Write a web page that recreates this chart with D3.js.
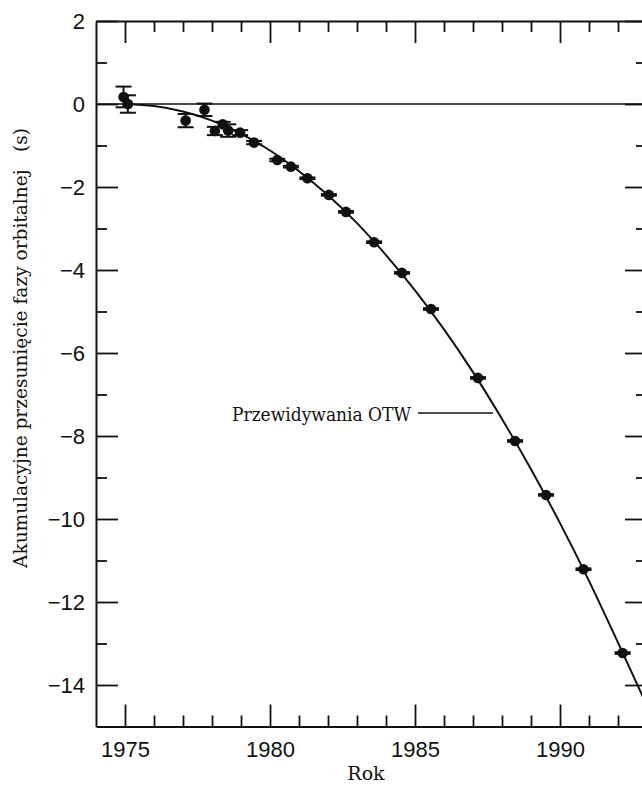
<!DOCTYPE html>
<html><head><meta charset="utf-8">
<script src="https://cdn.jsdelivr.net/npm/d3@7"></script>
<style>body{margin:0;background:#fff}svg{display:block}</style>
</head><body><svg id="c" width="642" height="787"></svg>
<script>
// Measured points (year, cumulative orbital phase shift in s, error in s)
const years  = [1974.95, 1975.10, 1977.09, 1977.74, 1978.10, 1978.37, 1978.56, 1978.97, 1979.45, 1980.25, 1980.72, 1981.29, 1982.03, 1982.62, 1983.59, 1984.55, 1985.55, 1987.17, 1988.45, 1989.52, 1990.81, 1992.16];
const shifts = [0.17, 0.00, -0.40, -0.14, -0.65, -0.49, -0.64, -0.69, -0.93, -1.35, -1.51, -1.79, -2.19, -2.60, -3.33, -4.07, -4.94, -6.60, -8.12, -9.42, -11.21, -13.23];
const errors = [0.25, 0.21, 0.16, 0.15, 0.10, 0.06, 0.15, 0.06, 0.04, 0.03, 0.02, 0.02, 0.02, 0.02, 0.02, 0.02, 0.02, 0.02, 0.02, 0.02, 0.02, 0.02];
// GR (OTW) prediction curve
const curveYears  = [1975.0, 1976, 1977, 1978, 1979, 1980, 1981, 1982, 1983, 1984, 1985, 1986, 1987, 1988, 1989, 1990, 1991, 1992, 1992.9];
const curveShifts = [0.0, -0.05, -0.18, -0.40, -0.72, -1.12, -1.62, -2.20, -2.87, -3.64, -4.49, -5.43, -6.46, -7.59, -8.80, -10.10, -11.49, -12.98, -14.35];
// Tick values
const xMajorTicks = [1975, 1980, 1985, 1990];
const xMinorTicks = [1976, 1977, 1978, 1979, 1981, 1982, 1983, 1984, 1986, 1987, 1988, 1989, 1991, 1992];
const yMajorTicks = [2, 0, -2, -4, -6, -8, -10, -12, -14];
const yMinorTicks = [1, -1, -3, -5, -7, -9, -11, -13];
const xTitle = "Rok";
const yTitle = "Akumulacyjne przesunięcie fazy orbitalnej";
const yUnit = "(s)";
const annotation = "Przewidywania OTW";

const svg = d3.select("#c");
const L = 96, R = 647, T = 21, B = 726.5;
const x = d3.scaleLinear().domain([1974, 1993]).range([L, R]);
const y = d3.scaleLinear().domain([-15, 2]).range([B, T]);

const fmt = d => d < 0 ? "\u2212" + Math.abs(d) : String(d);
const sans = "'Liberation Sans', Arial, sans-serif";
const serif = "'DejaVu Serif', serif";

function styleAxis(g) {
  g.attr("font-family", sans).attr("font-size", 22);
  g.selectAll("path.domain").attr("stroke", "#111").attr("stroke-width", 2);
  g.selectAll(".tick line").attr("stroke", "#111").attr("stroke-width", 1.8);
  g.selectAll(".tick text").attr("fill", "#111");
}

// Left axis
svg.append("g").attr("transform", `translate(${L},0)`)
  .call(d3.axisLeft(y).tickValues(yMajorTicks).tickSize(-22).tickSizeOuter(0).tickPadding(11).tickFormat(fmt)).call(styleAxis);
svg.append("g").attr("transform", `translate(${L},0)`)
  .call(d3.axisLeft(y).tickValues(yMinorTicks).tickSize(-11).tickFormat("")).call(styleAxis)
  .select("path.domain").remove();
// Right axis
svg.append("g").attr("transform", `translate(${R},0)`)
  .call(d3.axisRight(y).tickValues(yMajorTicks).tickSize(-22).tickSizeOuter(0).tickFormat("")).call(styleAxis);
svg.append("g").attr("transform", `translate(${R},0)`)
  .call(d3.axisRight(y).tickValues(yMinorTicks).tickSize(-11).tickFormat("")).call(styleAxis)
  .select("path.domain").remove();
// Bottom axis
svg.append("g").attr("transform", `translate(0,${B})`)
  .call(d3.axisBottom(x).tickValues(xMajorTicks).tickSize(-22).tickSizeOuter(0).tickPadding(14.5).tickFormat(d3.format("d"))).call(styleAxis);
svg.append("g").attr("transform", `translate(0,${B})`)
  .call(d3.axisBottom(x).tickValues(xMinorTicks).tickSize(-11).tickFormat("")).call(styleAxis)
  .select("path.domain").remove();
// Top axis
svg.append("g").attr("transform", `translate(0,${T})`)
  .call(d3.axisTop(x).tickValues(xMajorTicks).tickSize(-22).tickSizeOuter(0).tickFormat("")).call(styleAxis);
svg.append("g").attr("transform", `translate(0,${T})`)
  .call(d3.axisTop(x).tickValues(xMinorTicks).tickSize(-11).tickFormat("")).call(styleAxis)
  .select("path.domain").remove();

// Zero line
svg.append("line").attr("x1", L).attr("x2", R).attr("y1", y(0)).attr("y2", y(0))
  .attr("stroke", "#111").attr("stroke-width", 1.6);

// Prediction curve
const curveData = curveYears.map((t, i) => [t, curveShifts[i]]);
svg.append("path").datum(curveData)
  .attr("fill", "none").attr("stroke", "#111").attr("stroke-width", 2)
  .attr("d", d3.line().x(d => x(d[0])).y(d => y(d[1])).curve(d3.curveMonotoneX));

// Data points with error bars
const pts = years.map((t, i) => ({t, v: shifts[i], e: errors[i]}));
const cap = 8;
const g = svg.append("g").attr("stroke", "#111").attr("stroke-width", 2);
pts.forEach(p => {
  const cx = x(p.t), y1 = y(p.v + p.e), y2 = y(p.v - p.e);
  g.append("line").attr("x1", cx).attr("x2", cx).attr("y1", y1).attr("y2", y2);
  g.append("line").attr("x1", cx - cap).attr("x2", cx + cap).attr("y1", y1).attr("y2", y1);
  g.append("line").attr("x1", cx - cap).attr("x2", cx + cap).attr("y1", y2).attr("y2", y2);
});
svg.append("g").selectAll("circle").data(pts).join("circle")
  .attr("cx", d => x(d.t)).attr("cy", d => y(d.v)).attr("r", 5.3).attr("fill", "#111");

// Annotation
svg.append("text").attr("x", 232).attr("y", 421).attr("font-family", serif).attr("font-size", 18.5)
  .attr("fill", "#111").attr("textLength", 179).attr("lengthAdjust", "spacingAndGlyphs").text(annotation);
svg.append("line").attr("x1", 418).attr("x2", 493).attr("y1", 413).attr("y2", 413)
  .attr("stroke", "#111").attr("stroke-width", 1.4);

// Axis titles
svg.append("text").attr("x", 366).attr("y", 780).attr("text-anchor", "middle")
  .attr("font-family", serif).attr("font-size", 19).attr("fill", "#111").text(xTitle);
const yt = svg.append("text").attr("transform", "translate(27,348) rotate(-90)").attr("text-anchor", "middle")
  .attr("font-family", serif).attr("font-size", 19).attr("fill", "#111")
  .attr("textLength", 440).attr("lengthAdjust", "spacingAndGlyphs");
yt.append("tspan").text(yTitle);
yt.append("tspan").attr("dx", 18).text(yUnit);
</script>
</body></html>
